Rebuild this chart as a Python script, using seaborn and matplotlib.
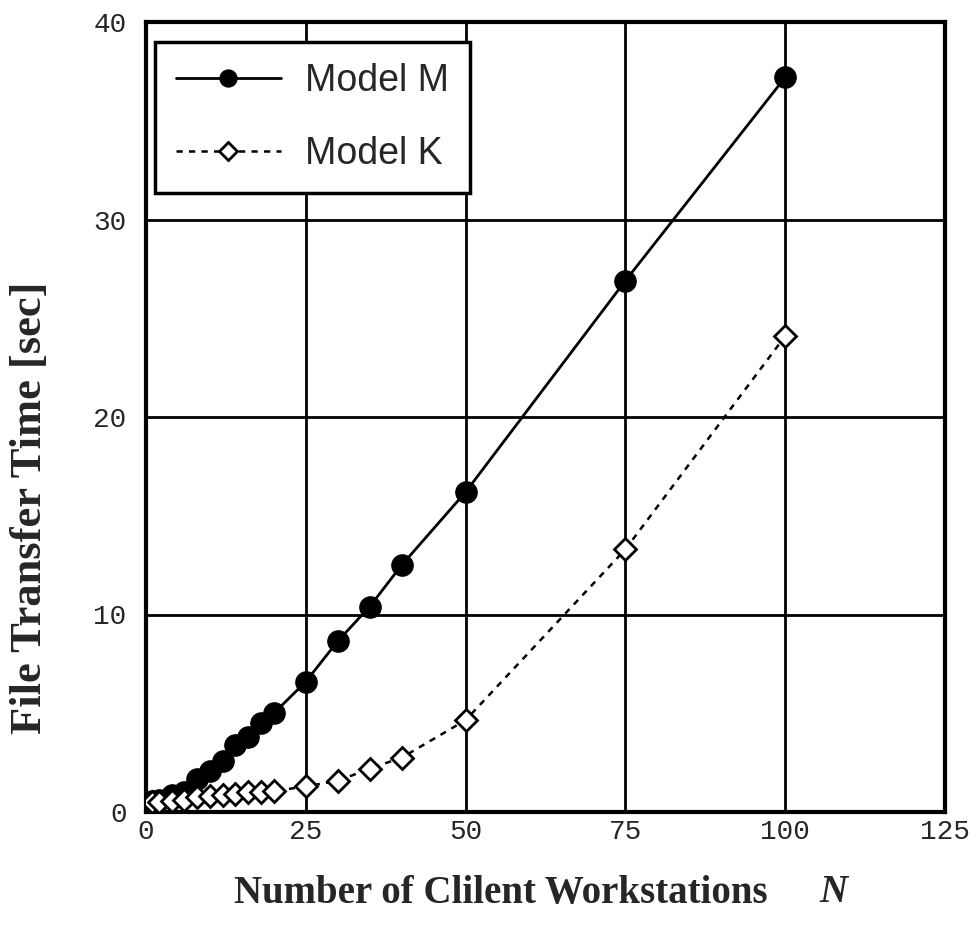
import matplotlib
matplotlib.use("Agg")
import matplotlib.pyplot as plt
import seaborn as sns
import pandas as pd

n_m = [1, 2, 4, 6, 8, 10, 12, 14, 16, 18, 20, 25, 30, 35, 40, 50, 75, 100]
t_m = [0.55, 0.6, 0.85, 1.0, 1.65, 2.1, 2.6, 3.4, 3.8, 4.5, 5.0, 6.6, 8.65, 10.4, 12.5, 16.2, 26.9, 37.2]
n_k = [1, 2, 4, 6, 8, 10, 12, 14, 16, 18, 20, 25, 30, 35, 40, 50, 75, 100]
t_k = [0.5, 0.5, 0.55, 0.6, 0.75, 0.8, 0.85, 0.9, 1.0, 1.0, 1.05, 1.3, 1.57, 2.2, 2.75, 4.65, 13.3, 24.1]
x_ticks = [0, 25, 50, 75, 100, 125]
y_ticks = [0, 10, 20, 30, 40]

df_m = pd.DataFrame({"N": n_m, "T": t_m})
df_k = pd.DataFrame({"N": n_k, "T": t_k})

sns.set_style("white")
fig = plt.figure(figsize=(9.76, 9.34), dpi=100)
ax = fig.add_axes([146/976, 1-812/934, (945-146)/976, (812-22)/934])

sns.lineplot(data=df_m, x="N", y="T", ax=ax, color="black", lw=2,
             marker="o", markersize=15.5, markerfacecolor="black",
             markeredgecolor="black", label="Model M", zorder=4)
sns.lineplot(data=df_k, x="N", y="T", ax=ax, color="black", lw=1.8,
             linestyle=(0, (2.5, 2.5)), marker="D", markersize=11,
             markerfacecolor="white", markeredgecolor="black",
             markeredgewidth=2, label="Model K", zorder=4)

ax.set_xlim(0, 125)
ax.set_ylim(0, 40)
ax.set_xticks(x_ticks)
ax.set_yticks(y_ticks)
ax.grid(True, color="black", lw=2)
ax.set_axisbelow(True)
for s in ax.spines.values():
    s.set_linewidth(3)
    s.set_color("black")
ax.tick_params(axis="x", length=0, pad=5)
ax.tick_params(axis="y", length=0, pad=14)
for lab in ax.get_xticklabels() + ax.get_yticklabels():
    lab.set_fontfamily("Liberation Mono")
    lab.set_fontsize(20)
ax.set_xlabel("")
ax.set_ylabel("File Transfer Time [sec]", fontfamily="Liberation Serif",
              fontweight="bold", fontsize=32, va="center")
ax.yaxis.set_label_coords((30 - 146) / 799, (812 - 508) / 790)

fig.text(501/976, 1-893/934, "Number of Clilent Workstations",
         fontfamily="Liberation Serif", fontweight="bold", fontsize=28,
         ha="center", va="center")
fig.text(833/976, 1-893/934, "N", fontfamily="Liberation Serif",
         fontweight="bold", fontstyle="italic", fontsize=28,
         ha="center", va="center")

leg = ax.legend(loc="upper left", bbox_to_anchor=(9/799, 1-20/790),
                borderaxespad=0,
                prop={"family": "Liberation Sans", "size": 27},
                handlelength=2.8, handletextpad=0.65, borderpad=0.55,
                labelspacing=1.0, fancybox=False, framealpha=1,
                edgecolor="black", markerscale=0.8)
leg.get_frame().set_linewidth(2.5)

fig.savefig("out.png", dpi=100)
